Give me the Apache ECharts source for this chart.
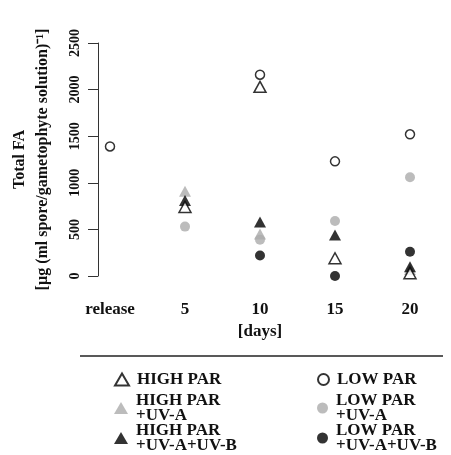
<!DOCTYPE html>
<html>
<head>
<meta charset="utf-8">
<script src="https://cdn.jsdelivr.net/npm/echarts@6/dist/echarts.min.js"></script>
<style>html,body{margin:0;padding:0;background:#fff}#c{width:451px;height:455px}</style>
</head>
<body>
<div id="c"></div>
<script>
var categories = ['release', '5', '10', '15', '20'];
var yTicks = [0, 500, 1000, 1500, 2000, 2500];
var highPar      = [null, 740, 2030, 190, 30];
var highParUVA   = [null, 910, 450, null, 70];
var highParUVAB  = [null, 810, 580, 440, 100];
var lowPar       = [1390, null, 2160, 1230, 1520];
var lowParUVA    = [null, 530, 390, 590, 1060];
var lowParUVAB   = [null, null, 220, 0, 260];

var names = {
  hp: 'HIGH PAR', hpa: 'HIGH PAR\n+UV-A', hpab: 'HIGH PAR\n+UV-A+UV-B',
  lp: 'LOW PAR', lpa: 'LOW PAR\n+UV-A', lpab: 'LOW PAR\n+UV-A+UV-B'
};
var FONT = 'Liberation Serif';
var grey = '#ababab';

function s(name, data, symbol, size, style, z) {
  return { name: name, type: 'scatter', data: data, symbol: symbol, symbolSize: size,
           itemStyle: style, z: z, emphasis: { disabled: true } };
}

var chart = echarts.init(document.getElementById('c'), null, { renderer: 'canvas' });
var legendText = { fontFamily: FONT, fontWeight: 'bold', fontSize: 17, color: '#111', lineHeight: 15, padding: [0, 0, 0, 3] };
function lg(name, left, top, w) {
  return { data: [name], left: left, top: top, orient: 'vertical', itemGap: 0, itemWidth: w, itemHeight: 12,
           textStyle: legendText, selectedMode: false, padding: 0 };
}
chart.setOption({
  backgroundColor: '#fff',
  animation: false,
  grid: { left: 107, right: 41, top: 43, bottom: 179 },
  xAxis: {
    type: 'category', data: categories, boundaryGap: false,
    axisLine: { show: false }, axisTick: { show: false },
    axisLabel: { margin: 25, fontFamily: FONT, fontWeight: 'bold', fontSize: 17, color: '#111' },
    name: '[days]', nameLocation: 'middle', nameGap: 46,
    nameTextStyle: { fontFamily: FONT, fontWeight: 'bold', fontSize: 17, color: '#111' }
  },
  yAxis: {
    type: 'value', min: yTicks[0], max: yTicks[yTicks.length - 1], interval: 500, offset: 12,
    splitLine: { show: false },
    axisLine: { show: true, lineStyle: { color: '#333', width: 1 } },
    axisTick: { show: true, length: 10, lineStyle: { color: '#333' } },
    axisLabel: { rotate: 90, margin: 16, fontFamily: FONT, fontWeight: 'bold', fontSize: 14, color: '#111',
                 formatter: function (v) { return String(v); } },
    name: 'Total FA\n[µg (ml spore/gametophyte solution)⁻¹]', nameLocation: 'middle', nameGap: 44, nameRotate: 90,
    nameTextStyle: { fontFamily: FONT, fontWeight: 'bold', fontSize: 16, color: '#111', lineHeight: 23 }
  },
  legend: [
    lg(names.hp, 114, 371, 14),
    lg(names.hpa, 114, 392, 14),
    lg(names.hpab, 114, 422, 14),
    lg(names.lp, 317, 371, 11),
    lg(names.lpa, 317, 392, 11),
    lg(names.lpab, 317, 422, 11)
  ],
  graphic: [{ type: 'line', shape: { x1: 80, y1: 356, x2: 443, y2: 356 }, style: { stroke: '#222', lineWidth: 1.5 } }],
  series: [
    s(names.hpa, highParUVA, 'triangle', [12, 11], { color: grey }, 2),
    s(names.hpab, highParUVAB, 'triangle', [12, 11], { color: '#000' }, 3),
    s(names.hp, highPar, 'triangle', [12, 11], { color: '#fff', borderColor: '#000', borderWidth: 1.5 }, 4),
    s(names.lp, lowPar, 'circle', 9, { color: '#fff', borderColor: '#000', borderWidth: 1.5 }, 5),
    s(names.lpa, lowParUVA, 'circle', 10, { color: grey }, 5),
    s(names.lpab, lowParUVAB, 'circle', 10, { color: '#000' }, 6)
  ]
});
</script>
</body>
</html>
